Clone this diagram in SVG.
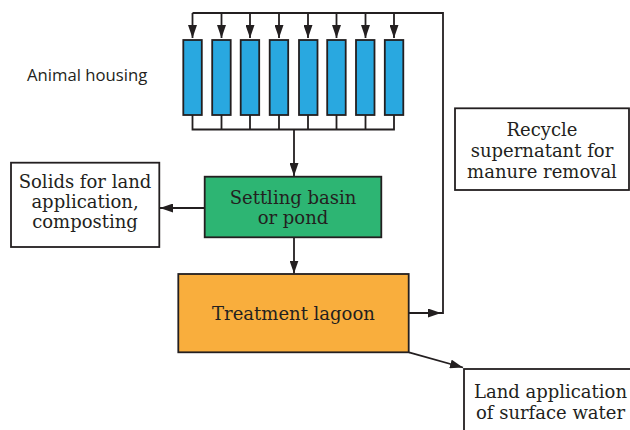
<svg xmlns="http://www.w3.org/2000/svg" width="630" height="430" viewBox="0 0 630 430">
<defs>
<marker id="ah" markerUnits="userSpaceOnUse" markerWidth="13" markerHeight="9" refX="13" refY="4.5" orient="auto">
<path d="M0,0 L13,4.5 L0,9 z" fill="#231f20"/>
</marker>
<style>
.ln{fill:none;stroke:#231f20;stroke-width:1.8}
.box{stroke:#231f20;stroke-width:1.8}
.st{font-family:"DejaVu Serif","Liberation Serif",serif;font-size:18px;fill:#231f20;text-anchor:middle}
.ss{font-family:"Open Sans","Liberation Sans",sans-serif;font-size:16.7px;fill:#231f20}
.h{fill:#29a8e0;stroke:#231f20;stroke-width:1.8}
</style>
</defs>
<rect width="630" height="430" fill="#fff"/>
<g id="connectors">
<path class="ln" d="M192.5,13 H443 V313 H409" />
<path class="ln" d="M409,313 H441" marker-end="url(#ah)"/>
<path class="ln" d="M192.5,13 V38" marker-end="url(#ah)"/>
<path class="ln" d="M221.5,13 V38" marker-end="url(#ah)"/>
<path class="ln" d="M250,13 V38" marker-end="url(#ah)"/>
<path class="ln" d="M279,13 V38" marker-end="url(#ah)"/>
<path class="ln" d="M308,13 V38" marker-end="url(#ah)"/>
<path class="ln" d="M336.5,13 V38" marker-end="url(#ah)"/>
<path class="ln" d="M365.5,13 V38" marker-end="url(#ah)"/>
<path class="ln" d="M394,13 V38" marker-end="url(#ah)"/>
<path class="ln" d="M192.5,115 V129.5 H394 V115 M221.5,115 V129.5 M250,115 V129.5 M279,115 V129.5 M308,115 V129.5 M336.5,115 V129.5 M365.5,115 V129.5"/>
<path class="ln" d="M294,129.5 V176" marker-end="url(#ah)"/>
<path class="ln" d="M204.7,208 H160" marker-end="url(#ah)"/>
<path class="ln" d="M294,237.5 V273.5" marker-end="url(#ah)"/>
<path class="ln" d="M409,352.3 L463,367.5" marker-end="url(#ah)"/>
</g>
<g id="housing">
<rect class="h" x="183.3" y="40" width="18.5" height="75"/>
<rect class="h" x="212.2" y="40" width="18.5" height="75"/>
<rect class="h" x="240.7" y="40" width="18.5" height="75"/>
<rect class="h" x="269.7" y="40" width="18.5" height="75"/>
<rect class="h" x="299" y="40" width="18.5" height="75"/>
<rect class="h" x="327.2" y="40" width="18.5" height="75"/>
<rect class="h" x="356" y="40" width="18.5" height="75"/>
<rect class="h" x="384.8" y="40" width="18.5" height="75"/>
</g>
<g id="animal-housing-label">
<text class="ss" x="27" y="81">Animal housing</text>
</g>
<g id="settling">
<rect class="box" x="204.7" y="176.7" width="176.6" height="60.6" fill="#2db573"/>
<text class="st" x="293" y="204">Settling basin</text>
<text class="st" x="293" y="224">or pond</text>
</g>
<g id="solids">
<rect class="box" x="11" y="162.7" width="148.3" height="84.3" fill="#fff"/>
<text class="st" x="85" y="188">Solids for land</text>
<text class="st" x="85" y="208">application,</text>
<text class="st" x="85" y="228">composting</text>
</g>
<g id="lagoon">
<rect class="box" x="178.3" y="274" width="230.4" height="78.3" fill="#f9ae3d"/>
<text class="st" x="293.5" y="320">Treatment lagoon</text>
</g>
<g id="recycle">
<rect class="box" x="455" y="108.3" width="174" height="81.7" fill="#fff"/>
<text class="st" x="542" y="136">Recycle</text>
<text class="st" x="542" y="157">supernatant for</text>
<text class="st" x="542" y="178">manure removal</text>
</g>
<g id="land">
<rect class="box" x="464" y="369" width="180" height="80" fill="#fff"/>
<text class="st" x="550.5" y="398">Land application</text>
<text class="st" x="550.5" y="419">of surface water</text>
</g>
</svg>
